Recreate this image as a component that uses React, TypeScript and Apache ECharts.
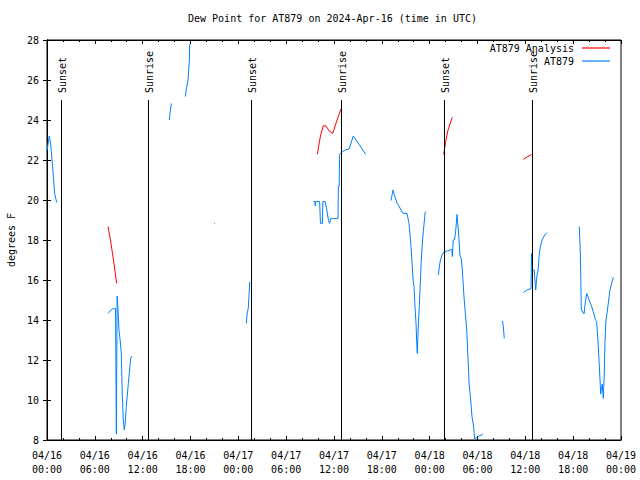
import React, { useEffect, useRef } from "react";
import * as echarts from "echarts";

// Hours since 2024-04-16 00:00 UTC; null separates data gaps
const obsHours: number[] = [
  0, 0.29, 0.46, 0.63, 0.8, 0.96, 1.21, 3,
  7.65, 7.9, 8.2, 8.6, 8.7, 8.8, 8.9, 9.03, 9.2, 9.32, 9.45, 9.57, 9.7, 9.82, 9.95, 10.2, 10.5, 10.62, 12,
  15.34, 15.45, 15.6, 16.5,
  17.35, 17.5, 17.7, 17.85, 17.9, 19,
  20.95, 21.05, 23,
  25.0, 25.1, 25.25, 25.35, 25.43, 29,
  33.4, 33.6, 33.65, 33.7, 34.2, 34.3, 34.55, 34.6, 34.9, 35.1, 35.3, 35.45, 35.6, 36.0, 36.5, 36.55, 36.65, 36.7, 37.0, 37.4, 37.9, 38.42, 39.2, 39.98, 41,
  43.15, 43.4, 43.65, 43.9, 44.15, 44.4, 44.66, 45.16, 45.41, 45.55, 45.66, 45.8, 45.92, 46.04, 46.17, 46.29, 46.37, 46.45, 46.55, 46.7, 46.82, 46.95, 47.08, 47.2, 47.45, 48,
  49.08, 49.3, 49.5, 49.71, 50.2, 50.77, 50.85, 50.95, 51.14, 51.3, 51.43, 51.6, 51.81, 51.95, 52.1, 52.3, 52.5, 52.65, 52.8, 52.95, 53.15, 53.3, 53.5, 53.65, 53.8, 54.2, 54.65, 56,
  57.11, 57.2, 57.36, 58,
  59.75, 60.2, 60.71, 60.78, 60.85, 60.9, 61.1, 61.25, 61.3, 61.45, 61.6, 61.75, 61.9, 62.1, 62.35, 62.68, 64,
  66.77, 66.9, 66.95, 67.02, 67.2, 67.36, 67.5, 67.7, 68.0, 68.3, 68.6, 68.8, 68.95, 69.12, 69.24, 69.37, 69.45, 69.65, 69.78, 69.9, 69.99, 70.12, 70.3, 70.46, 70.62, 70.79, 71.04,
];
const obsValues: (number | null)[] = [
  22.47, 23.2, 22.83, 22.0, 21.17, 20.33, 19.88, null,
  14.33, 14.45, 14.55, 14.58, 8.3, 15.2, 14.6, 13.5, 12.9, 12.33, 10.17, 9.0, 8.5, 8.9, 9.67, 10.83, 12.08, 12.2, null,
  24.0, 24.4, 24.83, null,
  25.17, 25.6, 26.0, 27.0, 27.8, null,
  18.83, 18.83, null,
  13.83, 14.3, 14.6, 15.3, 15.9, null,
  19.92, 19.92, 19.7, 19.92, 19.92, 18.83, 18.83, 19.92, 19.92, 19.5, 19.0, 18.83, 19.07, 19.07, 19.07, 20.7, 20.7, 22.28, 22.4, 22.5, 22.55, 23.2, 22.75, 22.28, null,
  19.97, 20.5, 20.15, 19.85, 19.7, 19.5, 19.33, 19.33, 18.83, 18.2, 17.67, 16.8, 16.0, 15.67, 14.6, 13.83, 12.9, 12.33, 13.5, 14.67, 15.8, 17.0, 17.8, 18.42, 19.42, null,
  16.25, 16.9, 17.2, 17.37, 17.45, 17.53, 17.17, 18.0, 18.03, 18.6, 19.28, 18.5, 17.2, 17.1, 16.5, 15.2, 14.2, 13.5, 12.2, 10.8, 10.0, 9.2, 8.7, 8.05, 8.1, 8.2, 8.28, null,
  13.95, 13.8, 13.08, null,
  15.37, 15.5, 15.57, 17.33, 17.33, 16.5, 16.5, 15.8, 15.5, 16.2, 16.5, 17.3, 17.7, 18.0, 18.2, 18.37, null,
  18.67, 17.3, 16.17, 14.5, 14.4, 14.3, 14.8, 15.33, 15.0, 14.7, 14.3, 14.0, 13.92, 12.9, 12.0, 11.0, 10.3, 10.8, 10.08, 11.3, 12.92, 14.0, 14.5, 15.0, 15.5, 15.8, 16.13,
];

const anaHours: number[] = [
  7.65, 8.0, 8.3, 8.74, 20,
  33.9, 34.3, 34.66, 35.0, 35.4, 35.84, 36.3, 36.88, 40,
  49.76, 50.05, 50.3, 50.84, 52,
  53.69, 53.77, 56,
  59.75, 60.2, 60.8,
];
const anaValues: (number | null)[] = [
  18.67, 17.9, 17.1, 15.83, null,
  22.28, 23.2, 23.72, 23.7, 23.45, 23.33, 23.9, 24.55, null,
  22.28, 23.0, 23.5, 24.13, null,
  18.18, 18.18, null,
  22.03, 22.15, 22.28,
];

const eventHours: number[] = [1.72, 12.72, 25.65, 36.85, 49.74, 60.8];
const eventNames: string[] = ["Sunset", "Sunrise", "Sunset", "Sunrise", "Sunset", "Sunrise"];

const yTicks = { min: 8, max: 28, step: 2 };
const xTicks = { min: 0, max: 72, step: 6 };

const FONT = '"DejaVu Sans Mono", monospace';
const LINE_ICON = "path://M0,0H28V1.2H0Z";

function fmtX(v: number): string {
  const day = 16 + Math.floor(v / 24);
  const hh = Math.round(v % 24);
  return `04/${day}\n${String(hh).padStart(2, "0")}:00`;
}

export default function App() {
  const ref = useRef<HTMLDivElement>(null);
  useEffect(() => {
    if (!ref.current) return;
    const chart = echarts.init(ref.current, null, { renderer: "svg" });
    const obsData = obsHours.map((h, i) => [h, obsValues[i]]);
    const anaData = anaHours.map((h, i) => [h, anaValues[i]]);
    const xBase = {
      type: "value" as const,
      min: xTicks.min,
      max: xTicks.max,
      interval: xTicks.step,
      axisLine: { show: true, lineStyle: { color: "#000", width: 1 } },
      axisTick: { show: true, inside: true, length: 4, lineStyle: { color: "#000" } },
      minorTick: { show: true, splitNumber: 3, length: 2, lineStyle: { color: "#000" } },
      splitLine: { show: false },
    };
    const yBase = {
      type: "value" as const,
      min: yTicks.min,
      max: yTicks.max,
      interval: yTicks.step,
      axisLine: { show: true, lineStyle: { color: "#000", width: 1 } },
      axisTick: { show: true, inside: true, length: 4, lineStyle: { color: "#000" } },
      splitLine: { show: false },
    };
    const legendBase = {
      orient: "horizontal" as const,
      right: 30,
      align: "right" as const,
      itemWidth: 28,
      itemHeight: 12,
      icon: LINE_ICON,
      textStyle: { fontFamily: FONT, fontSize: 10, color: "#000", padding: [0, 3, 0, 0] },
      selectedMode: false,
    };
    chart.setOption({
      animation: false,
      backgroundColor: "#fff",
      title: {
        text: "Dew Point for AT879 on 2024-Apr-16 (time in UTC)",
        left: 188,
        top: 13,
        padding: 0,
        textStyle: { fontFamily: FONT, fontSize: 10, fontWeight: "normal", color: "#000" },
      },
      legend: [
        { ...legendBase, data: ["AT879 Analysis"], top: 43, padding: 0 },
        { ...legendBase, data: ["AT879"], top: 56, padding: 0 },
      ],
      grid: {
        left: 47,
        right: 19,
        top: 40,
        bottom: 40,
        outerBoundsMode: "none",
        containLabel: false,
        show: true,
        borderColor: "#000",
        borderWidth: 1,
        backgroundColor: "transparent",
      },
      xAxis: [
        {
          ...xBase,
          position: "bottom",
          axisLabel: {
            show: true,
            margin: 8,
            fontFamily: FONT,
            fontSize: 10,
            color: "#000",
            lineHeight: 14,
            showMaxLabel: true,
            showMinLabel: true,
            hideOverlap: false,
            formatter: (v: number) => fmtX(v),
          },
        },
        { ...xBase, position: "top", axisLabel: { show: false } },
      ],
      yAxis: [
        {
          ...yBase,
          position: "left",
          name: "degrees F",
          nameLocation: "middle",
          nameGap: 31,
          nameTextStyle: { fontFamily: FONT, fontSize: 10, color: "#000" },
          axisLabel: { show: true, margin: 8, fontFamily: FONT, fontSize: 10, color: "#000" },
        },
        { ...yBase, position: "right", axisLabel: { show: false } },
      ],
      series: [
        {
          name: "AT879 Analysis",
          type: "line",
          data: anaData,
          symbol: "none",
          connectNulls: false,
          lineStyle: { color: "#ff0000", width: 1 },
          itemStyle: { color: "#ff0000" },
          z: 3,
        },
        {
          name: "AT879",
          type: "line",
          data: obsData,
          symbol: "none",
          connectNulls: false,
          lineStyle: { color: "#0080ff", width: 1 },
          itemStyle: { color: "#0080ff" },
          z: 3,
        },
        {
          name: "events",
          type: "custom",
          data: eventHours.map((h) => [h, 25]),
          encode: { x: 0, y: 1 },
          z: 4,
          renderItem: (params: any, api: any) => {
            const h = api.value(0);
            const top = api.coord([h, api.value(1)]);
            const bot = api.coord([h, yTicks.min]);
            const x = Math.round(top[0]) + 0.5;
            return {
              type: "group",
              children: [
                {
                  type: "line",
                  shape: { x1: x, y1: top[1], x2: x, y2: bot[1] },
                  style: { stroke: "#000", lineWidth: 1 },
                },
                {
                  type: "text",
                  x: x + 1,
                  y: top[1] - 7,
                  rotation: Math.PI / 2,
                  style: {
                    text: eventNames[params.dataIndex],
                    fill: "#000",
                    font: `10px ${FONT}`,
                    align: "left",
                    verticalAlign: "middle",
                  },
                },
              ],
            };
          },
        },
      ],
    });
    return () => chart.dispose();
  }, []);
  return <div ref={ref} style={{ width: 640, height: 480, position: "absolute", left: 0, top: 0 }} />;
}
